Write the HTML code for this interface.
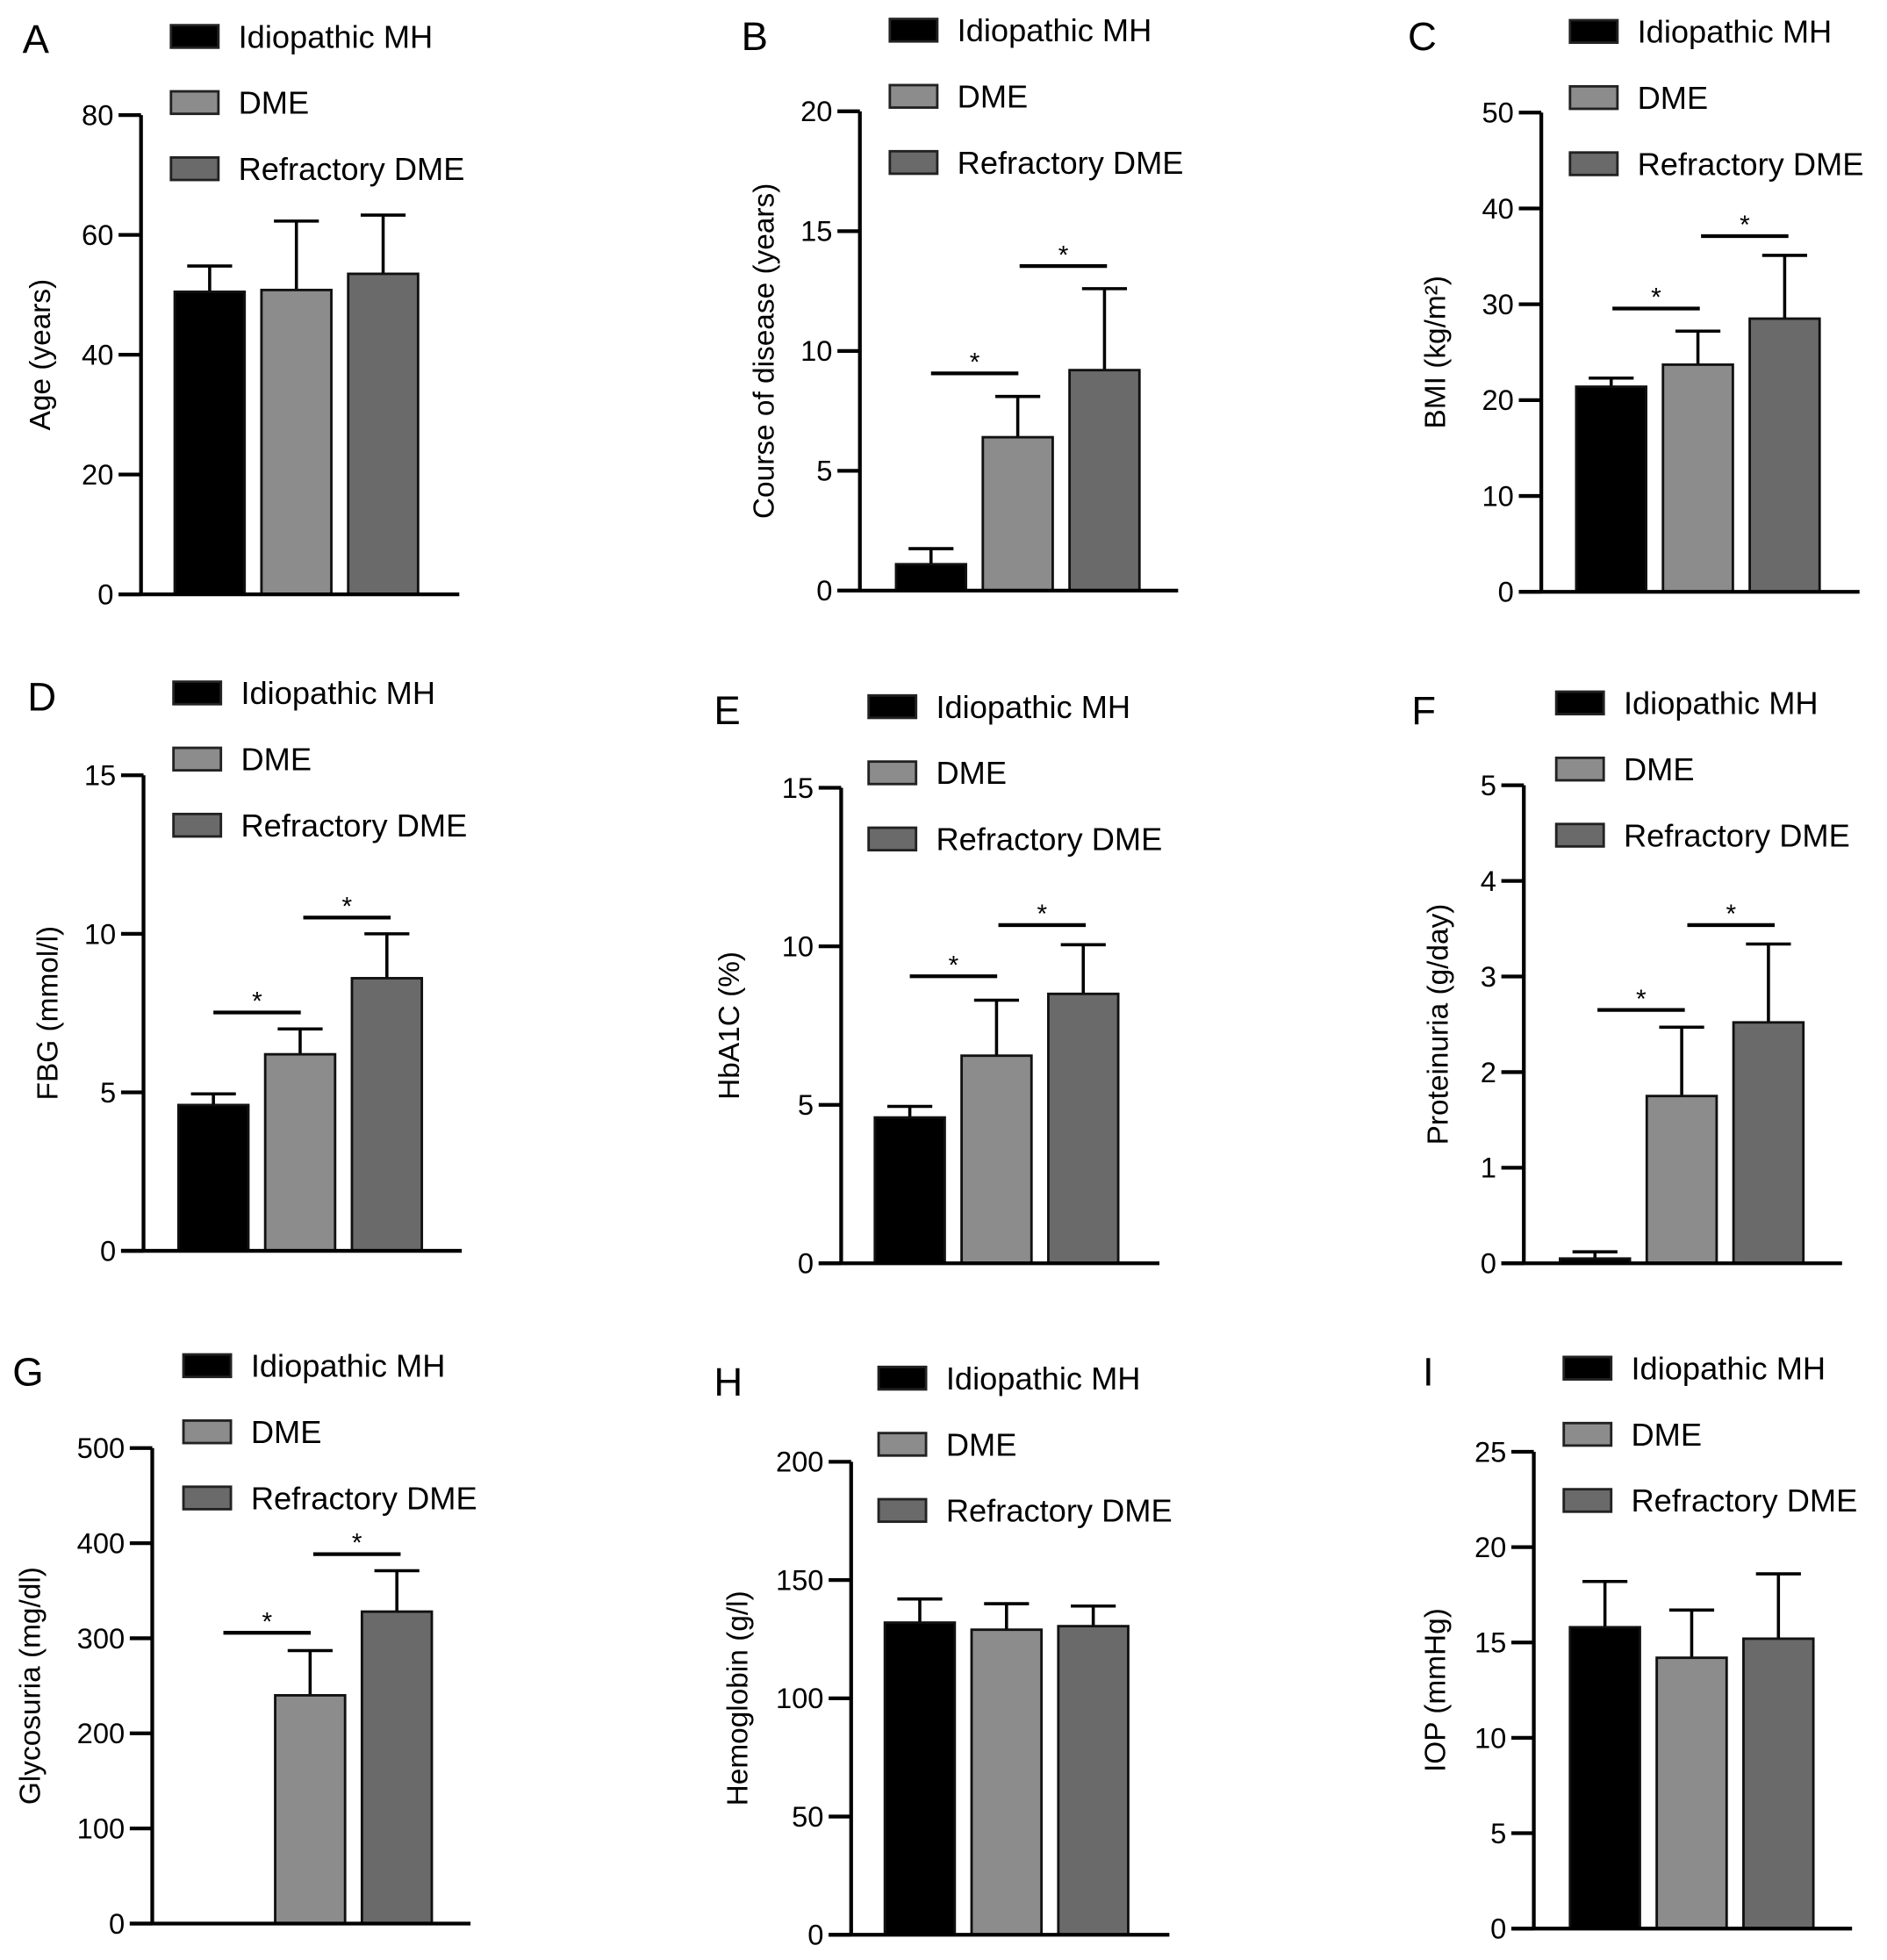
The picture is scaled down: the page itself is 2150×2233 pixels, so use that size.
<!DOCTYPE html>
<html><head><meta charset="utf-8"><style>
html,body{margin:0;padding:0;background:#fff;}
svg{display:block;font-family:"Liberation Sans",Arial,sans-serif;}
</style></head><body>
<svg id="fig" width="2150" height="2233" viewBox="0 0 1512 1570" xmlns="http://www.w3.org/2000/svg"></svg>
<script>
const groups = ["Idiopathic MH","DME","Refractory DME"];
const colors = ["#000000","#8c8c8c","#6a6a6a"];
// panel data
const ageMean=[50.5,50.8,53.5], ageErr=[4.3,11.5,9.8], ageTicks=[0,20,40,60,80];
const courseMean=[1.1,6.4,9.2], courseErr=[0.65,1.7,3.4], courseTicks=[0,5,10,15,20];
const bmiMean=[21.4,23.7,28.5], bmiErr=[0.9,3.5,6.6], bmiTicks=[0,10,20,30,40,50];
const fbgMean=[4.6,6.2,8.6], fbgErr=[0.35,0.8,1.4], fbgTicks=[0,5,10,15];
const hbaMean=[4.6,6.55,8.5], hbaErr=[0.35,1.75,1.55], hbaTicks=[0,5,10,15];
const protMean=[0.05,1.75,2.52], protErr=[0.07,0.72,0.82], protTicks=[0,1,2,3,4,5];
const glyMean=[0,240,328], glyErr=[0,47,43], glyTicks=[0,100,200,300,400,500];
const hbMean=[132,129,130.5], hbErr=[10,11,8.5], hbTicks=[0,50,100,150,200];
const iopMean=[15.8,14.2,15.2], iopErr=[2.4,2.5,3.4], iopTicks=[0,5,10,15,20,25];

const panels=[
 {id:"a",letter:"A",lx:18,ly:42,ax:113,yTop:92,y0:476,max:80,bx:140,leg:[137,29],title:"Age (years)",tx:32,mean:ageMean,err:ageErr,ticks:ageTicks,sig:[]},
 {id:"b",letter:"B",lx:594,ly:40,ax:689,yTop:89,y0:473,max:20,bx:718,leg:[713,24],title:"Course of disease (years)",tx:612,mean:courseMean,err:courseErr,ticks:courseTicks,sig:[[299,746,816],[213,817,887]]},
 {id:"c",letter:"C",lx:1128,ly:40,ax:1235,yTop:90,y0:474,max:50,bx:1263,leg:[1258,25],title:"BMI (kg/m²)",tx:1150,mean:bmiMean,err:bmiErr,ticks:bmiTicks,sig:[[247,1292,1362],[189,1363,1433]]},
 {id:"d",letter:"D",lx:22,ly:569,ax:115,yTop:621,y0:1002,max:15,bx:143,leg:[139,555],title:"FBG (mmol/l)",tx:38,mean:fbgMean,err:fbgErr,ticks:fbgTicks,sig:[[811,171,241],[735,243,313]]},
 {id:"e",letter:"E",lx:572,ly:580,ax:674,yTop:631,y0:1012,max:15,bx:701,leg:[696,566],title:"HbA1C (%)",tx:584,mean:hbaMean,err:hbaErr,ticks:hbaTicks,sig:[[782,729,799],[741,800,870]]},
 {id:"f",letter:"F",lx:1131,ly:580,ax:1221,yTop:629,y0:1012,max:5,bx:1250,leg:[1247,563],title:"Proteinuria (g/day)",tx:1152,mean:protMean,err:protErr,ticks:protTicks,sig:[[809,1280,1350],[741,1352,1422]]},
 {id:"g",letter:"G",lx:10,ly:1110,ax:122,yTop:1160,y0:1541,max:500,bx:151,leg:[147,1094],title:"Glycosuria (mg/dl)",tx:24,mean:glyMean,err:glyErr,ticks:glyTicks,sig:[[1308,179,249],[1245,251,321]]},
 {id:"h",letter:"H",lx:572,ly:1118,ax:682,yTop:1171,y0:1550,max:200,bx:709,leg:[704,1104],title:"Hemoglobin (g/l)",tx:591,mean:hbMean,err:hbErr,ticks:hbTicks,sig:[]},
 {id:"i",letter:"I",lx:1140,ly:1110,ax:1229,yTop:1163,y0:1545,max:25,bx:1258,leg:[1253,1096],title:"IOP (mmHg)",tx:1150,mean:iopMean,err:iopErr,ticks:iopTicks,sig:[]}
];
const NS="http://www.w3.org/2000/svg";
const svg=document.getElementById("fig");
function mk(tag,attrs,parent,text){const e=document.createElementNS(NS,tag);for(const k in attrs)e.setAttribute(k,attrs[k]);if(text!==undefined)e.textContent=text;parent.appendChild(e);return e;}
panels.forEach(p=>{
 const g=mk("g",{},svg);
 
 
 const y=v=>p.y0-(v/p.max)*(p.y0-p.yTop);
 const lab=mk("text",{x:p.lx,y:p.ly,"font-size":32},g,p.letter);
 
 
 groups.forEach((n,i)=>{
  const ly=p.leg[1]+i*53;
  const sw=mk("rect",{x:p.leg[0],y:ly-9,width:38,height:18,fill:colors[i],stroke:"#222","stroke-width":2},g);
  
  
  const t=mk("text",{x:p.leg[0]+54,y:ly+9,"font-size":25.5},g,n);
  
  
 });
 p.mean.forEach((m,i)=>{
  const x=p.bx+i*69.5, w=56;
  const top=y(m+p.err[i]);
  if(p.err[i]>0){
   const el=mk("path",{d:`M${x+w/2},${y(m)}V${top}M${x+w/2-18},${top}H${x+w/2+18}`,stroke:"#000","stroke-width":2.5,fill:"none"},g);
   
   
  }
  if(m>0){
   const r=mk("rect",{x:x,y:y(m),width:w,height:p.y0-y(m),fill:colors[i],stroke:"#111","stroke-width":2},g);
   
   
  }
 });
 const ax=mk("path",{d:`M${p.ax},${p.yTop}V${p.y0}M${p.ax-18},${p.y0}H${p.ax+255}`,stroke:"#000","stroke-width":3,fill:"none"},g);
 
 
 p.ticks.forEach(t=>{
  const ty=y(t);
  const tk=mk("line",{x1:p.ax-18,x2:p.ax,y1:ty,y2:ty,stroke:"#000","stroke-width":3},g);
  
  
  const tl=mk("text",{x:p.ax-22,y:ty+8,"font-size":23,"text-anchor":"end"},g,String(t));
  
  
 });
 const yt=mk("text",{x:p.tx,y:(p.yTop+p.y0)/2,"font-size":23.5,"text-anchor":"middle",transform:`rotate(-90 ${p.tx} ${(p.yTop+p.y0)/2})`,dy:8},g,p.title);
 
 
 p.sig.forEach(s=>{
  const l=mk("line",{x1:s[1],x2:s[2],y1:s[0],y2:s[0],stroke:"#000","stroke-width":3},g);
  
  
  const st=mk("text",{x:(s[1]+s[2])/2,y:s[0]-2,"font-size":21,"text-anchor":"middle"},g,"*");
  
  
 });
});
</script>
</body></html>
